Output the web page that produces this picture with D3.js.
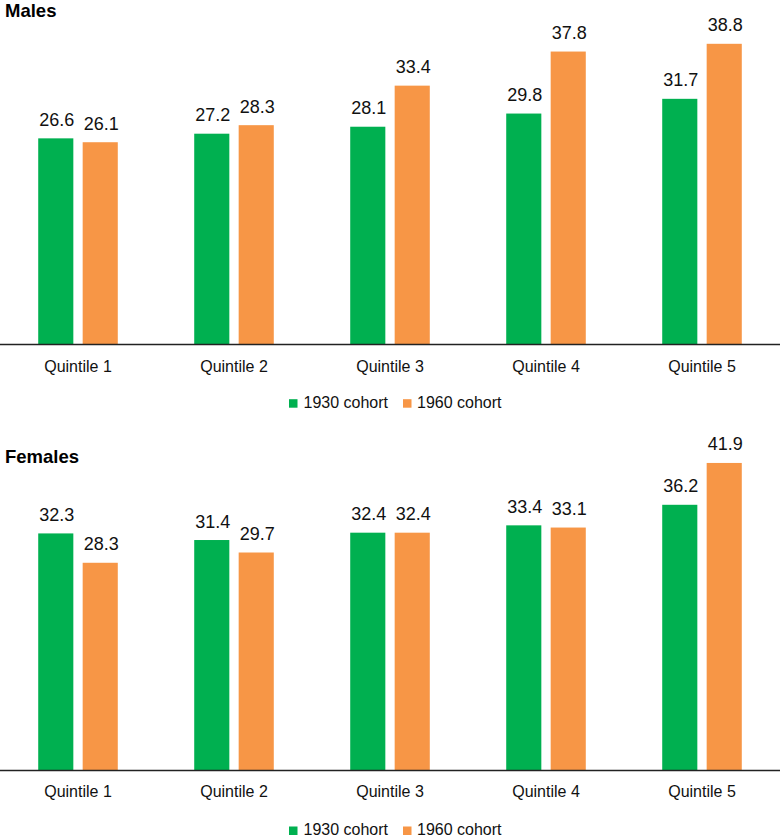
<!DOCTYPE html>
<html><head><meta charset="utf-8">
<script src="https://cdn.jsdelivr.net/npm/d3@7"></script>
<style>body{margin:0;background:#fff}svg{display:block;font-family:"Liberation Sans",Arial,Helvetica,sans-serif}</style>
</head><body><svg id="c" width="780" height="839"></svg>
<script>
const quintiles = ["Quintile 1","Quintile 2","Quintile 3","Quintile 4","Quintile 5"];
const seriesNames = ["1930 cohort","1960 cohort"];
const males1930 = [26.6, 27.2, 28.1, 29.8, 31.7];
const males1960 = [26.1, 28.3, 33.4, 37.8, 38.8];
const females1930 = [32.3, 31.4, 32.4, 33.4, 36.2];
const females1960 = [28.3, 29.7, 32.4, 33.1, 41.9];
const colors = ["#00B050", "#F79646"];

const svg = d3.select("#c");
const x0 = d3.scaleBand().domain(quintiles).range([0,780]).paddingInner(0.49).paddingOuter(0.245);
const x1 = d3.scaleBand().domain(seriesNames).range([0, x0.bandwidth()]).paddingInner(0.21).paddingOuter(0);

function panel(title, titleY, base, pxPerUnit, s1, s2, labelY, legendY){
  const g = svg.append("g");
  const y = d3.scaleLinear().domain([0,40]).range([base, base - 40*pxPerUnit]);
  g.append("text").attr("x",5).attr("y",titleY).attr("font-size",18.5).attr("font-weight","bold").attr("fill","#000").text(title);
  const rows = quintiles.map((q,i)=>({q, vals:[s1[i], s2[i]]}));
  const grp = g.selectAll("g.grp").data(rows).join("g").attr("transform", d=>`translate(${x0(d.q)},0)`);
  grp.selectAll("rect").data(d=>d.vals.map((v,j)=>({v, s:seriesNames[j], j})))
    .join("rect").attr("x",d=>x1(d.s)).attr("width",x1.bandwidth())
    .attr("y",d=>y(d.v)).attr("height",d=>y(0)-y(d.v)).attr("fill",d=>colors[d.j]);
  grp.selectAll("text.v").data(d=>d.vals.map((v,j)=>({v, s:seriesNames[j], j})))
    .join("text").attr("class","v").attr("x",d=>x1(d.s)+x1.bandwidth()/2+1).attr("y",d=>y(d.v)-12.5)
    .attr("text-anchor","middle").attr("font-size",18).attr("fill","#111").text(d=>d3.format(".1f")(d.v));
  const axis = d3.axisBottom(x0).tickSize(0).tickPadding(0);
  const ag = g.append("g").attr("transform",`translate(0,${base})`).call(axis);
  ag.select(".domain").attr("stroke","#222").attr("stroke-width",1.3).attr("d","M0,0H780");
  ag.selectAll(".tick text").attr("font-size",16).attr("fill","#111").attr("dy",null).attr("y",labelY-base)
    .attr("font-family","\"Liberation Sans\",Arial,Helvetica,sans-serif");
  const leg = g.append("g");
  const items = [{n:seriesNames[0], c:colors[0], sx:289, tx:303.5},{n:seriesNames[1], c:colors[1], sx:403, tx:417}];
  leg.selectAll("rect").data(items).join("rect").attr("x",d=>d.sx).attr("y",legendY-8.5).attr("width",8.5).attr("height",8.5).attr("fill",d=>d.c);
  leg.selectAll("text").data(items).join("text").attr("x",d=>d.tx).attr("y",legendY).attr("font-size",16).attr("fill","#111").text(d=>d.n);
}
panel("Males", 16.7, 344.5, 7.75, males1930, males1960, 371.7, 407.7);
panel("Females", 462.7, 770.5, 7.34, females1930, females1960, 797.3, 835);
</script></body></html>
